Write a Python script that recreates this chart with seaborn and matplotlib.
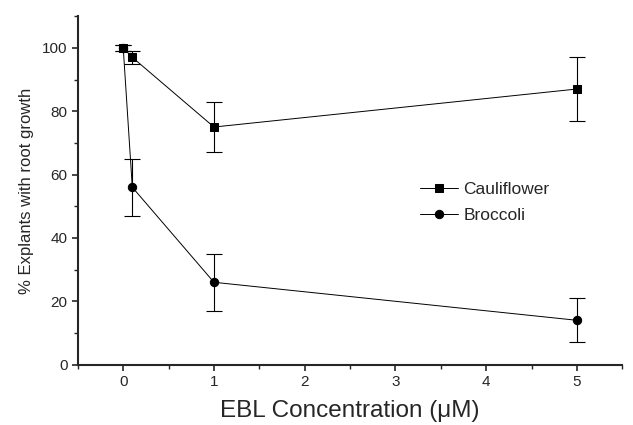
import matplotlib
matplotlib.use("Agg")
import matplotlib.pyplot as plt
import seaborn as sns
import pandas as pd
from matplotlib.ticker import MultipleLocator

# data
ebl_conc = [0, 0.1, 1, 5]
cauliflower = [100, 97, 75, 87]
cauliflower_err = [1, 2, 8, 10]
broccoli = [100, 56, 26, 14]
broccoli_err = [1, 9, 9, 7]

df = pd.DataFrame({
    "EBL": ebl_conc * 2,
    "pct": cauliflower + broccoli,
    "err": cauliflower_err + broccoli_err,
    "Variety": ["Cauliflower"] * 4 + ["Broccoli"] * 4,
})

sns.set_style("ticks")
plt.rcParams['font.family'] = ['Liberation Sans', 'DejaVu Sans']

fig = plt.figure(figsize=(6.33, 4.25), dpi=100)
ax = fig.add_axes([0.123, 0.142, 0.86, 0.82])

sns.lineplot(data=df, x="EBL", y="pct", hue="Variety", style="Variety",
             markers={"Cauliflower": "s", "Broccoli": "o"}, dashes=False,
             palette={"Cauliflower": "black", "Broccoli": "black"},
             markersize=6, linewidth=0.7, ax=ax, errorbar=None,
             markeredgecolor="black")

for name, grp in df.groupby("Variety"):
    ax.errorbar(grp["EBL"], grp["pct"], yerr=grp["err"], fmt="none",
                ecolor="black", elinewidth=0.8, capsize=5.5, capthick=0.8)

ax.set_xlim(-0.5, 5.5)
ax.set_ylim(0, 110)
ax.xaxis.set_major_locator(MultipleLocator(1))
ax.xaxis.set_minor_locator(MultipleLocator(0.5))
ax.yaxis.set_major_locator(MultipleLocator(20))
ax.yaxis.set_minor_locator(MultipleLocator(10))
ax.tick_params(which="major", length=4, width=1.2, labelsize=11, direction="out")
ax.tick_params(which="minor", length=3, width=1.0, direction="out")
for s in ["left", "bottom"]:
    ax.spines[s].set_linewidth(1.5)
sns.despine(ax=ax)

ax.set_xlabel("EBL Concentration (\u03bcM)", fontsize=17.5, labelpad=8)
ax.set_ylabel("% Explants with root growth", fontsize=12, labelpad=6)

leg = ax.legend(loc="center left", bbox_to_anchor=(0.6, 0.465), frameon=False,
                fontsize=12.5, handlelength=2.2, handletextpad=0.3, labelspacing=0.6)

fig.savefig("out.png", dpi=100)
